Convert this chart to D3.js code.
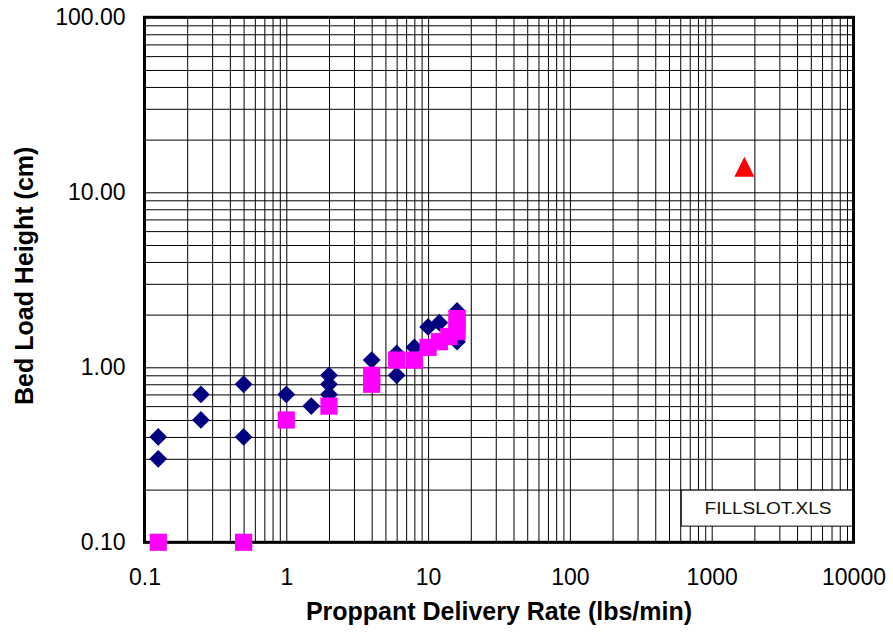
<!DOCTYPE html>
<html>
<head>
<meta charset="utf-8">
<script src="https://cdn.jsdelivr.net/npm/d3@7/dist/d3.min.js"></script>
<style>
  body { margin: 0; background: #fff; }
  text { font-family: "Liberation Sans", Arial, sans-serif; }
</style>
</head>
<body>
<svg id="chart" width="893" height="632"></svg>
<script>
// series 1 - navy diamonds
const diamondX = [0.125, 0.125, 0.25, 0.25, 0.5, 0.5, 1, 1.5, 2, 2, 2, 4, 6, 6, 8, 10, 12, 16, 16];
const diamondY = [0.4, 0.3, 0.7, 0.5, 0.8, 0.4, 0.7, 0.6, 0.9, 0.8, 0.7, 1.1, 0.9, 1.2, 1.3, 1.7, 1.8, 2.1, 1.4];
// series 2 - magenta squares
const squareX = [0.125, 0.5, 1, 2, 4, 4, 6, 8, 10, 12, 14, 16, 16, 16];
const squareY = [0.1, 0.1, 0.5, 0.6, 0.8, 0.9, 1.1, 1.1, 1.3, 1.4, 1.5, 1.6, 1.8, 1.9];
// series 3 - red triangle
const triangleX = [1700];
const triangleY = [14];

const xTicks = [0.1, 1, 10, 100, 1000, 10000];
const yTicks = [0.1, 1, 10, 100];
const xTitle = "Proppant Delivery Rate (lbs/min)";
const yTitle = "Bed Load Height (cm)";
const noteLabel = "FILLSLOT.XLS";

const svg = d3.select("#chart");
const plotLeft = 144.5, plotRight = 853.5, plotTop = 17.3, plotBottom = 542.3;

const x = d3.scaleLog().domain([0.1, 10000]).range([plotLeft, plotRight]);
const y = d3.scaleLog().domain([0.1, 100]).range([plotBottom, plotTop]);

svg.append("rect").attr("width", 893).attr("height", 632).attr("fill", "#fff");

// gridlines (every 1..9 multiple of each decade)
svg.append("g")
  .attr("transform", `translate(0,${plotBottom})`)
  .call(d3.axisBottom(x).tickValues(x.ticks()).tickSize(-(plotBottom - plotTop)).tickFormat(""))
  .call(g => g.select(".domain").remove())
  .call(g => g.selectAll("line").attr("stroke", "#000").attr("stroke-width", 1));

svg.append("g")
  .attr("transform", `translate(${plotLeft},0)`)
  .call(d3.axisLeft(y).tickValues(y.ticks()).tickSize(-(plotRight - plotLeft)).tickFormat(""))
  .call(g => g.select(".domain").remove())
  .call(g => g.selectAll("line").attr("stroke", "#000").attr("stroke-width", 1));

// tick labels
svg.append("g")
  .attr("transform", `translate(0,${plotBottom})`)
  .call(d3.axisBottom(x).tickValues(xTicks).tickSize(0).tickPadding(26)
    .tickFormat(d => d < 1 ? d3.format(".1f")(d) : d3.format("d")(d)))
  .call(g => g.select(".domain").remove())
  .call(g => g.selectAll("text")
    .attr("font-size", 23).attr("fill", "#000")
    .attr("font-family", "Liberation Sans, Arial, sans-serif"));

svg.append("g")
  .attr("transform", `translate(${plotLeft},0)`)
  .call(d3.axisLeft(y).tickValues(yTicks).tickSize(0).tickPadding(19)
    .tickFormat(d3.format(".2f")))
  .call(g => g.select(".domain").remove())
  .call(g => g.selectAll("text")
    .attr("font-size", 23).attr("fill", "#000")
    .attr("font-family", "Liberation Sans, Arial, sans-serif"));

// note box
svg.append("rect")
  .attr("x", x(600) + 1).attr("y", y(0.2) + 0.5)
  .attr("width", plotRight - x(600) - 1).attr("height", 36)
  .attr("fill", "#fff").attr("stroke", "#000").attr("stroke-width", 1);
svg.append("text")
  .attr("x", 768).attr("y", 513.5)
  .attr("text-anchor", "middle")
  .attr("font-size", 16).attr("fill", "#111")
  .attr("textLength", 127).attr("lengthAdjust", "spacingAndGlyphs")
  .text(noteLabel);

// plot frame
svg.append("rect")
  .attr("x", plotLeft).attr("y", plotTop)
  .attr("width", plotRight - plotLeft).attr("height", plotBottom - plotTop)
  .attr("fill", "none").attr("stroke", "#000").attr("stroke-width", 3);

// markers
const diamonds = diamondX.map((d, i) => ({ x: d, y: diamondY[i] }));
const squares = squareX.map((d, i) => ({ x: d, y: squareY[i] }));
const triangles = triangleX.map((d, i) => ({ x: d, y: triangleY[i] }));

svg.append("g").selectAll("path")
  .data(diamonds)
  .join("path")
  .attr("d", d3.symbol(d3.symbolSquare, 158)())
  .attr("transform", d => `translate(${x(d.x)},${y(d.y)}) rotate(45)`)
  .attr("fill", "#000080");

svg.append("g").selectAll("path")
  .data(squares)
  .join("path")
  .attr("d", d3.symbol(d3.symbolSquare, 296)())
  .attr("transform", d => `translate(${x(d.x)},${y(d.y)})`)
  .attr("fill", "#ff00ff");

const triShape = d3.line()([[0, -10], [10, 10], [-10, 10]]) + "Z";
svg.append("g").selectAll("path")
  .data(triangles)
  .join("path")
  .attr("d", triShape)
  .attr("transform", d => `translate(${x(d.x)},${y(d.y)})`)
  .attr("fill", "#ff0000");

// axis titles
svg.append("text")
  .attr("x", (plotLeft + plotRight) / 2).attr("y", 620)
  .attr("text-anchor", "middle")
  .attr("font-size", 25).attr("font-weight", "bold")
  .text(xTitle);

svg.append("text")
  .attr("transform", `translate(33,${(plotTop + plotBottom) / 2 - 4}) rotate(-90)`)
  .attr("text-anchor", "middle")
  .attr("font-size", 25).attr("font-weight", "bold")
  .text(yTitle);
</script>
</body>
</html>
